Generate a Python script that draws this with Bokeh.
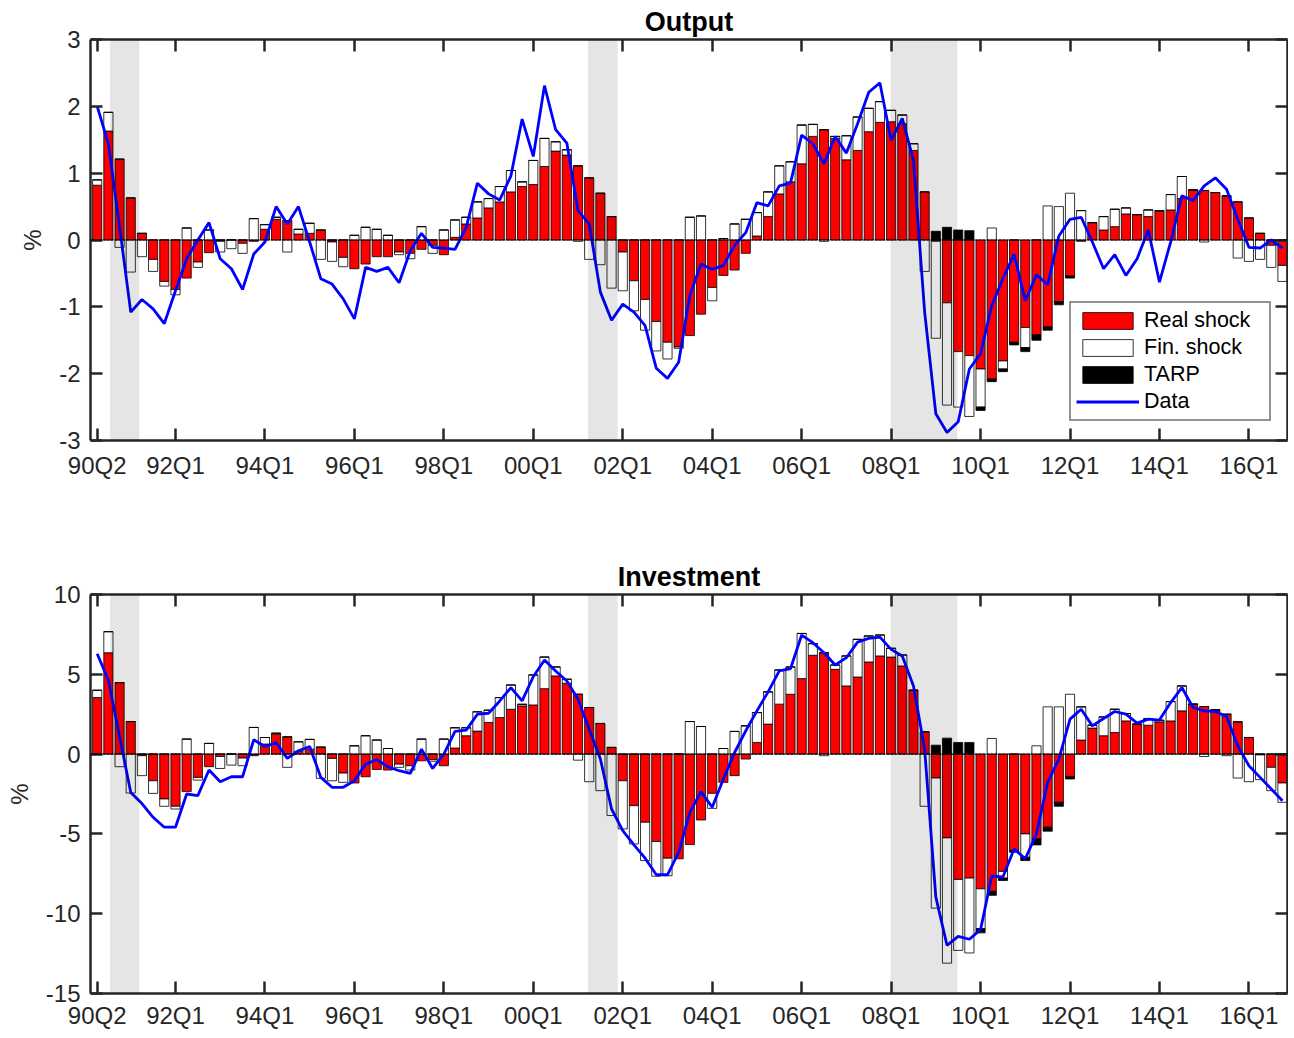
import numpy as np
from bokeh.plotting import figure
from bokeh.models import (Range1d, FixedTicker, LinearAxis, Span, BoxAnnotation,
                          Legend, LegendItem)
from bokeh.layouts import column
from bokeh.embed import file_html
from bokeh.resources import INLINE

# quarters 90Q2 .. 16Q4
quarters = []
for yr in range(1990, 2017):
    for q in range(1, 5):
        if (yr, q) >= (1990, 2):
            quarters.append("%02dQ%d" % (yr % 100, q))

tick_labels = ["90Q2", "92Q1", "94Q1", "96Q1", "98Q1", "00Q1", "02Q1", "04Q1",
               "06Q1", "08Q1", "10Q1", "12Q1", "14Q1", "16Q1"]

# recession shading (in quarter-index units)
recessions = [(1.15, 3.77), (43.9, 46.55), (70.95, 76.93)]

# ---- Output ----
out_real = [0.82, 1.63, 1.21, 0.63, 0.10, -0.29, -0.62, -0.74, -0.57, -0.33,
            -0.19, -0.02, 0.0, -0.05, -0.02, 0.16, 0.31, 0.29, 0.09, 0.10,
            0.15, -0.03, -0.26, -0.43, -0.36, -0.25, -0.25, -0.18, -0.20, -0.14,
            -0.08, -0.22, 0.04, 0.24, 0.33, 0.48, 0.57, 0.72, 0.80, 0.83,
            1.10, 1.33, 1.27, 1.11, 0.93, 0.70, 0.35, -0.18, -0.61, -0.89,
            -1.22, -1.53, -1.60, -1.43, -1.11, -0.71, -0.53, -0.45, -0.20, 0.06,
            0.35, 0.69, 0.87, 1.14, 1.55, 1.65, 1.52, 1.20, 1.34, 1.62,
            1.76, 1.77, 1.74, 1.34, 0.72, -0.02, -0.94, -1.67, -1.73, -1.93,
            -2.08, -1.81, -1.53, -1.31, -1.42, -1.30, -0.92, -0.54, -0.02, 0.26,
            0.15, 0.20, 0.39, 0.38, 0.35, 0.43, 0.45, 0.62, 0.75, 0.74,
            0.71, 0.66, 0.57, 0.33, 0.10, -0.08, -0.38]
out_fin = [0.08, 0.28, -0.11, -0.48, -0.25, -0.18, -0.07, -0.08, 0.18, -0.08,
           0.15, -0.16, -0.13, -0.15, 0.32, 0.07, 0.03, -0.18, 0.07, 0.15,
           -0.29, -0.29, -0.14, 0.07, 0.19, 0.16, 0.07, -0.04, -0.08, 0.20,
           -0.12, 0.15, 0.26, 0.10, 0.24, 0.14, 0.23, 0.32, 0.07, 0.36,
           0.42, 0.14, 0.08, -0.02, -0.29, -0.37, -0.72, -0.58, -0.45, -0.46,
           -0.44, -0.25, -0.02, 0.34, 0.36, -0.20, 0.02, 0.24, 0.31, 0.35,
           0.37, 0.42, 0.30, 0.58, 0.18, -0.02, 0.03, 0.36, 0.50, 0.35,
           0.31, 0.17, 0.13, 0.10, -0.47, -1.45, -1.53, -0.83, -0.91, -0.57,
           0.18, -0.12, 0.0, -0.30, 0.0, 0.51, 0.50, 0.70, 0.44, 0.0,
           0.20, 0.26, 0.09, 0.0, 0.10, 0.01, 0.23, 0.33, 0.0, -0.03,
           0.0, 0.0, -0.27, -0.32, -0.29, -0.33, -0.24]
out_tarp = [0.0, 0.0, 0.0, 0.0, 0.0, 0.0, 0.0, 0.0, 0.0, 0.0,
            0.0, 0.0, 0.0, 0.0, 0.0, 0.0, 0.0, 0.0, 0.0, 0.0,
            0.0, 0.0, 0.0, 0.0, 0.0, 0.0, 0.0, 0.0, 0.0, 0.0,
            0.0, 0.0, 0.0, 0.0, 0.0, 0.0, 0.0, 0.0, 0.0, 0.0,
            0.0, 0.0, 0.0, 0.0, 0.0, 0.0, 0.0, 0.0, 0.0, 0.0,
            0.0, 0.0, 0.0, 0.0, 0.0, 0.0, 0.0, 0.0, 0.0, 0.0,
            0.0, 0.0, 0.0, 0.0, 0.0, 0.0, 0.0, 0.0, 0.0, 0.0,
            0.0, 0.0, 0.0, 0.0, 0.0, 0.13, 0.19, 0.15, 0.14, -0.05,
            -0.04, -0.04, -0.04, -0.06, -0.08, -0.05, -0.05, -0.03, 0.0, 0.0,
            0.0, 0.0, 0.0, 0.0, 0.0, 0.0, 0.0, 0.0, 0.0, 0.0,
            0.0, 0.0, 0.0, 0.0, 0.0, 0.0, 0.0]
out_data = [2.00, 1.44, 0.20, -1.08, -0.89, -1.03, -1.25, -0.76, -0.28, 0.0,
            0.26, -0.28, -0.43, -0.74, -0.21, -0.03, 0.50, 0.24, 0.50, -0.03,
            -0.58, -0.66, -0.88, -1.18, -0.41, -0.47, -0.41, -0.64, -0.16, 0.10,
            -0.11, -0.12, -0.14, 0.19, 0.85, 0.69, 0.60, 0.96, 1.81, 1.25,
            2.31, 1.65, 1.45, 0.44, 0.24, -0.78, -1.20, -0.96, -1.08, -1.28,
            -1.92, -2.07, -1.83, -0.83, -0.36, -0.44, -0.38, -0.08, 0.11, 0.56,
            0.51, 0.81, 0.85, 1.57, 1.44, 1.14, 1.55, 1.30, 1.74, 2.21,
            2.35, 1.49, 1.82, 1.19, -1.08, -2.60, -2.88, -2.72, -1.93, -1.70,
            -0.98, -0.58, -0.21, -0.91, -0.52, -0.67, 0.06, 0.31, 0.34, -0.03,
            -0.43, -0.22, -0.53, -0.28, 0.15, -0.63, -0.03, 0.66, 0.59, 0.81,
            0.93, 0.76, 0.31, -0.11, -0.12, 0.0, -0.12]

# ---- Investment ----
inv_real = [3.54, 6.35, 4.48, 2.04, -0.10, -1.67, -2.81, -3.27, -2.35, -1.46,
            -0.79, -0.15, 0.0, -0.25, -0.10, 0.63, 1.25, 1.08, 0.17, 0.31,
            0.44, -0.27, -1.19, -1.81, -1.42, -0.96, -1.00, -0.63, -0.73, -0.42,
            -0.35, -0.73, 0.38, 1.15, 1.44, 1.98, 2.29, 2.81, 3.02, 3.08,
            4.10, 4.90, 4.44, 3.75, 2.92, 1.92, 0.42, -1.67, -3.23, -4.27,
            -5.48, -6.52, -6.56, -5.67, -4.13, -2.46, -1.77, -1.35, -0.31, 0.73,
            1.88, 3.13, 3.75, 4.73, 6.19, 6.35, 5.31, 4.27, 4.83, 5.77,
            6.15, 6.08, 5.52, 4.00, 1.40, -1.50, -5.25, -7.85, -7.77, -8.44,
            -8.60, -7.35, -6.04, -5.00, -5.31, -4.58, -3.02, -1.40, 0.88, 1.63,
            1.15, 1.35, 2.08, 1.88, 1.81, 2.02, 2.08, 2.71, 3.13, 2.98,
            2.77, 2.50, 2.02, 1.04, -0.05, -0.83, -1.81]
inv_fin = [0.46, 1.32, -0.79, -2.44, -1.25, -0.79, -0.46, -0.17, 0.94, -0.17,
           0.67, -0.75, -0.69, -0.48, 1.67, 0.41, 0.06, -0.83, 0.60, 0.61,
           -1.52, -1.40, -0.58, 0.52, 1.15, 0.88, 0.35, -0.20, -0.27, 0.94,
           -0.10, 0.94, 1.27, 0.50, 1.21, 0.77, 1.25, 1.52, 0.10, 1.88,
           1.98, 0.56, 0.25, -0.38, -1.73, -2.29, -3.85, -3.02, -2.40, -2.40,
           -2.17, -1.10, 0.0, 2.04, 1.73, -0.94, 0.35, 1.42, 1.77, 1.87,
           2.02, 2.14, 1.71, 2.83, 0.73, -0.10, 0.27, 1.88, 2.36, 1.63,
           1.31, 0.55, 0.69, 0.0, -3.27, -8.15, -7.85, -4.45, -4.69, -2.50,
           0.98, -0.42, 0.0, -1.46, 0.52, 2.96, 2.96, 3.75, 2.08, 0.18,
           1.18, 1.46, 0.46, 0.0, 0.42, 0.10, 1.21, 1.56, 0.0, -0.15,
           0.0, -0.10, -1.50, -1.73, -1.55, -1.46, -1.21]
inv_tarp = [0.0, 0.0, 0.0, 0.0, 0.0, 0.0, 0.0, 0.0, 0.0, 0.0,
            0.0, 0.0, 0.0, 0.0, 0.0, 0.0, 0.0, 0.0, 0.0, 0.0,
            0.0, 0.0, 0.0, 0.0, 0.0, 0.0, 0.0, 0.0, 0.0, 0.0,
            0.0, 0.0, 0.0, 0.0, 0.0, 0.0, 0.0, 0.0, 0.0, 0.0,
            0.0, 0.0, 0.0, 0.0, 0.0, 0.0, 0.0, 0.0, 0.0, 0.0,
            0.0, 0.0, 0.0, 0.0, 0.0, 0.0, 0.0, 0.0, 0.0, 0.0,
            0.0, 0.0, 0.0, 0.0, 0.0, 0.0, 0.0, 0.0, 0.0, 0.0,
            0.0, 0.0, 0.0, 0.0, 0.0, 0.56, 1.00, 0.73, 0.73, -0.26,
            -0.25, -0.15, -0.11, -0.21, -0.38, -0.25, -0.25, -0.16, 0.0, 0.0,
            0.0, 0.0, 0.0, 0.0, 0.0, 0.0, 0.0, 0.0, 0.0, 0.0,
            0.0, 0.0, 0.0, 0.0, 0.0, 0.0, 0.0]
inv_data = [6.29, 4.63, 1.10, -2.40, -3.10, -3.96, -4.58, -4.58, -2.50, -2.60,
            -1.00, -1.73, -1.42, -1.42, 0.90, 0.46, 0.73, -0.27, 0.21, 0.48,
            -1.46, -2.08, -2.08, -1.67, -0.63, -0.35, -0.79, -1.04, -1.21, 0.31,
            -0.90, 0.0, 1.42, 1.50, 2.50, 2.56, 3.33, 4.17, 3.33, 4.85,
            5.90, 5.21, 4.58, 3.44, 1.56, -0.31, -3.44, -4.79, -5.69, -6.52,
            -7.56, -7.56, -6.15, -3.65, -2.35, -3.33, -1.56, 0.10, 1.46, 2.71,
            3.90, 5.21, 5.35, 7.46, 6.98, 6.35, 5.58, 6.04, 7.02, 7.25,
            7.33, 6.56, 6.15, 4.27, 0.30, -8.96, -11.98, -11.42, -11.60, -11.00,
            -7.65, -7.70, -5.94, -6.56, -5.00, -1.77, -0.31, 2.19, 2.81, 1.77,
            2.23, 2.67, 2.50, 1.94, 2.19, 2.13, 3.23, 4.17, 2.92, 2.71,
            2.67, 2.35, 0.52, -0.73, -1.46, -2.19, -2.92]

n = len(quarters)
x = np.arange(n)
tick_pos = [quarters.index(t) for t in tick_labels]

FONT = "Liberation Sans"
AXC = "#262626"


def stack(parts):
    pos = np.zeros(n)
    neg = np.zeros(n)
    res = []
    for v in parts:
        v = np.asarray(v, dtype=float)
        bottom = np.where(v >= 0, pos, neg)
        top = bottom + v
        pos = np.where(v >= 0, top, pos)
        neg = np.where(v < 0, top, neg)
        res.append((bottom, top))
    return res


def style_axis(ax, labels=True):
    ax.axis_line_color = AXC
    ax.axis_line_width = 2.5
    ax.major_tick_line_color = AXC
    ax.major_tick_line_width = 2.5
    ax.major_tick_in = 12
    ax.major_tick_out = 0
    ax.minor_tick_line_color = None
    ax.major_label_text_font = FONT
    if labels:
        ax.major_label_text_font_size = "24px"
        ax.major_label_text_color = AXC
    else:
        # mirrored box side: ticks only, no labels drawn
        ax.major_label_text_font_size = "1px"
        ax.major_label_text_color = None
        ax.major_label_standoff = 0


def panel(title, real, fin, tarp, data, ylo, yhi, ystep, height, btop, bbot,
          xstand, legend=False):
    p = figure(width=1288, height=height, output_backend="svg", toolbar_location=None,
               x_range=Range1d(-0.6, 106.45), y_range=Range1d(ylo, yhi),
               min_border_left=90, min_border_right=1,
               min_border_top=btop, min_border_bottom=bbot)
    p.title.text = title
    p.title.align = "center"
    p.title.text_font = FONT
    p.title.text_font_size = "27px"
    p.title.text_font_style = "bold"
    p.title.text_color = "black"
    p.title.standoff = 6
    p.outline_line_color = None
    p.grid.visible = False
    p.background_fill_color = "white"
    p.border_fill_color = "white"

    yticks = list(range(ylo, yhi + 1, ystep))
    p.xaxis.ticker = FixedTicker(ticks=tick_pos)
    p.xaxis.major_label_overrides = {t: l for t, l in zip(tick_pos, tick_labels)}
    p.yaxis.ticker = FixedTicker(ticks=yticks)
    p.yaxis.major_label_overrides = {v: str(v) for v in yticks}
    p.yaxis.major_label_standoff = 10
    p.yaxis.axis_label = "%"
    p.yaxis.axis_label_text_font = FONT
    p.yaxis.axis_label_text_font_size = "24px"
    p.yaxis.axis_label_text_font_style = "normal"
    p.yaxis.axis_label_text_color = AXC
    p.yaxis.axis_label_standoff = 10
    style_axis(p.xaxis[0])
    style_axis(p.yaxis[0])
    p.xaxis.major_label_standoff = xstand

    ax_top = LinearAxis(ticker=FixedTicker(ticks=tick_pos))
    style_axis(ax_top, labels=False)
    p.add_layout(ax_top, "above")
    ax_right = LinearAxis(ticker=FixedTicker(ticks=yticks))
    style_axis(ax_right, labels=False)
    p.add_layout(ax_right, "right")

    (rb, rt), (fb, ft), (tb, tt) = stack([real, fin, tarp])
    r_real = p.vbar(x=x, width=0.82, bottom=rb, top=rt, fill_color="#ff0000",
                    line_color="black", line_width=0.8)
    r_fin = p.vbar(x=x, width=0.82, bottom=fb, top=ft, fill_color="white",
                   line_color="black", line_width=0.8)
    r_tarp = p.vbar(x=x, width=0.82, bottom=tb, top=tt, fill_color="black",
                    line_color="black", line_width=0.8)
    p.add_layout(Span(location=0, dimension="width", line_color="black",
                      line_width=1.2, line_dash="3 1"))
    for a, b in recessions:
        p.add_layout(BoxAnnotation(left=a, right=b, fill_color="black",
                                   fill_alpha=0.1, line_color=None))
    r_line = p.line(x, data, line_color="#0000ff", line_width=2.8)

    if legend:
        leg = Legend(items=[LegendItem(label="Real shock", renderers=[r_real]),
                            LegendItem(label="Fin. shock", renderers=[r_fin]),
                            LegendItem(label="TARP", renderers=[r_tarp]),
                            LegendItem(label="Data", renderers=[r_line])],
                     location=(979, 19))
        leg.label_text_font = FONT
        leg.label_text_font_size = "21.5px"
        leg.label_text_color = "black"
        leg.glyph_width = 63
        leg.glyph_height = 21
        leg.spacing = 2
        leg.padding = 5
        leg.label_standoff = 5
        leg.label_width = 120
        leg.margin = 0
        leg.border_line_color = AXC
        leg.border_line_width = 2
        leg.background_fill_color = "white"
        leg.background_fill_alpha = 1
        p.add_layout(leg)
    return p


p1 = panel("Output", out_real, out_fin, out_tarp, out_data, -3, 3, 1,
           540, 39, 100, 11, legend=True)
p2 = panel("Investment", inv_real, inv_fin, inv_tarp, inv_data, -15, 10, 5,
           493, 54, 40, 8)

layout = column(p1, p2, spacing=0)
open("out.html", "w").write(file_html(layout, INLINE))
